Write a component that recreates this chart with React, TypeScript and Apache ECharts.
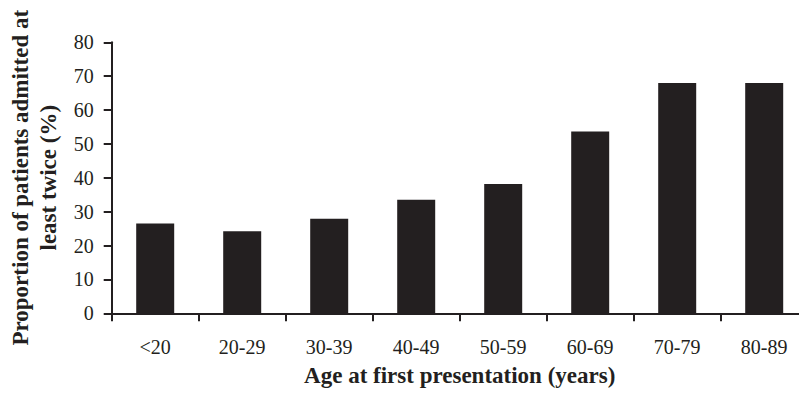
import React, { useEffect, useRef } from "react";
import * as echarts from "echarts";

const categories = ["<20", "20-29", "30-39", "40-49", "50-59", "60-69", "70-79", "80-89"];
const proportions = [26.5, 24.2, 27.9, 33.5, 38.2, 53.7, 68.0, 68.0];
const yTitleLines = ["Proportion of patients admitted at", "least twice (%)"];
const xTitle = "Age at first presentation (years)";

const INK = "#231f20";
const FONT = "'Liberation Serif', 'Times New Roman', serif";

export default function App() {
  const ref = useRef<HTMLDivElement>(null);
  useEffect(() => {
    if (!ref.current) return;
    const chart = echarts.init(ref.current, null, { renderer: "svg" });
    chart.setOption({
      animation: false,
      backgroundColor: "#ffffff",
      grid: { left: 111.7, top: 42.3, bottom: 82.7, right: 12.3, containLabel: false },
      xAxis: {
        type: "category",
        data: categories,
        name: xTitle,
        nameLocation: "middle",
        nameGap: 51,
        nameTextStyle: { fontFamily: FONT, fontWeight: "bold", fontSize: 23, color: INK },
        axisLine: { show: true, lineStyle: { color: INK, width: 2 } },
        axisTick: { show: true, length: 8, lineStyle: { color: INK, width: 2 } },
        axisLabel: { fontFamily: FONT, fontSize: 20, color: INK, margin: 24 },
        splitLine: { show: false },
      },
      yAxis: {
        type: "value",
        min: 0,
        max: 80,
        interval: 10,
        axisLine: { show: true, lineStyle: { color: INK, width: 2 } },
        axisTick: { show: true, length: 8, lineStyle: { color: INK, width: 2 } },
        axisLabel: { fontFamily: FONT, fontSize: 20, color: INK, margin: 18 },
        splitLine: { show: false },
      },
      graphic: [
        {
          type: "text",
          x: 34,
          y: 177.7,
          rotation: Math.PI / 2,
          style: {
            text: yTitleLines.join("\n"),
            font: `bold 23px ${FONT}`,
            fill: INK,
            align: "center",
            verticalAlign: "middle",
            lineHeight: 28,
          },
        },
      ],
      series: [
        {
          type: "bar",
          data: proportions,
          barWidth: 38,
          itemStyle: { color: INK },
        },
      ],
    });
    return () => chart.dispose();
  }, []);
  return (
    <div style={{ position: "fixed", left: 0, top: 0, width: 799, height: 396, overflow: "hidden", background: "#fff" }}>
      <div ref={ref} style={{ width: 820, height: 396 }} />
    </div>
  );
}
